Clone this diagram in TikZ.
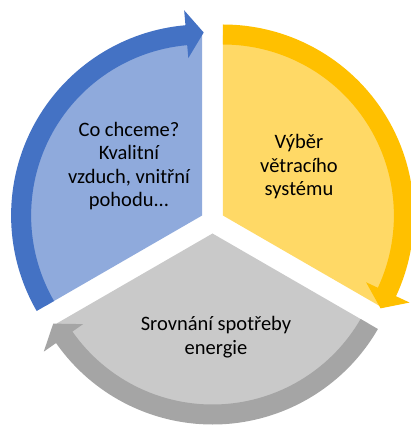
\documentclass[tikz,border=0pt]{standalone}
\usepackage{fontspec}
\setmainfont{Carlito}
\usepackage{tikz}
\definecolor{bluearrow}{RGB}{68, 114, 196}
\definecolor{bluefill}{RGB}{143, 170, 220}
\definecolor{yellowarrow}{RGB}{255, 192, 0}
\definecolor{yellowfill}{RGB}{255, 217, 102}
\definecolor{grayarrow}{RGB}{165, 165, 165}
\definecolor{grayfill}{RGB}{201, 201, 201}
\tikzset{seglabel/.style={align=center, text=black, inner sep=0pt, font=\fontsize{20.5pt}{23.5pt}\selectfont}}

\begin{document}
\begin{tikzpicture}
\useasboundingbox (-212.5pt, -203.5pt) rectangle (198.5pt, 221.5pt);
% blue segment
\begin{scope}[shift={(-10.4pt, 6pt)}]
\fill [bluefill] (0pt, 0pt) -- (210:180pt) arc [start angle=210, end angle=90, radius=180pt] -- cycle;
\fill [bluearrow] (210:191pt) arc [start angle=210, end angle=95, radius=191pt] -- (95:206pt) -- (89.5:183pt) -- (95:158pt) -- (95:171pt) arc [start angle=95, end angle=210, radius=171pt] -- cycle;
\end{scope}
% yellow segment
\begin{scope}[shift={(10.4pt, 6pt)}]
\fill [yellowfill] (0pt, 0pt) -- (90:180pt) arc [start angle=90, end angle=-30, radius=180pt] -- cycle;
\fill [yellowarrow] (90:191pt) arc [start angle=90, end angle=-25, radius=191pt] -- (-25:206pt) -- (-30.5:183pt) -- (-25:158pt) -- (-25:171pt) arc [start angle=-25, end angle=90, radius=171pt] -- cycle;
\end{scope}
% gray segment
\begin{scope}[shift={(0pt, -12pt)}]
\fill [grayfill] (0pt, 0pt) -- (-30:180pt) arc [start angle=-30, end angle=-150, radius=180pt] -- cycle;
\fill [grayarrow] (-30:191pt) arc [start angle=-30, end angle=-145, radius=191pt] -- (-145:206pt) -- (-150.5:183pt) -- (-145:158pt) -- (-145:171pt) arc [start angle=-145, end angle=-30, radius=171pt] -- cycle;
\end{scope}
\node (want) [seglabel] at (-83.5pt, 55.5pt) {Co chceme?\\Kvalitní\\vzduch, vnitřní\\pohodu{.}{.}{.}};
\node (choice) [seglabel] at (86.5pt, 54.5pt) {Výběr\\větracího\\systému};
\node (compare) [seglabel] at (3.5pt, -115.5pt) {Srovnání spotřeby\\energie};
\end{tikzpicture}
\end{document}
